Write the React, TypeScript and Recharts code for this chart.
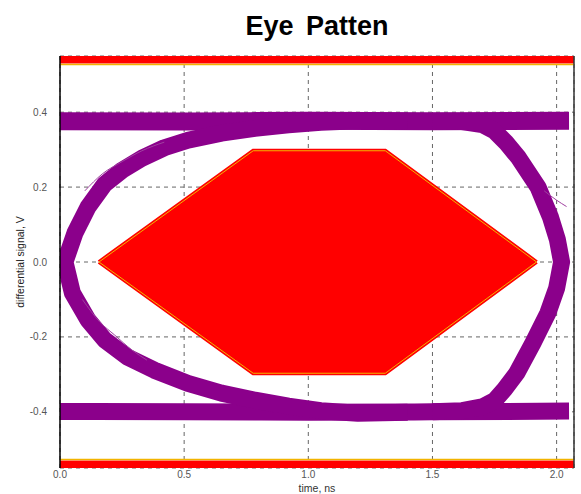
import {
  Area,
  CartesianGrid,
  ComposedChart,
  Line,
  ReferenceArea,
  ReferenceLine,
  XAxis,
  YAxis,
} from "recharts";

type Pt = { t: number; v: number };

// time (ns) / differential signal (V)
const xTicks = [0, 0.5, 1.0, 1.5, 2.0];
const yTicks = [-0.4, -0.2, 0, 0.2, 0.4];

const upperRail: Pt[] = [
  { t: 0, v: 0.376 },
  { t: 0.5, v: 0.375 },
  { t: 1.0, v: 0.377 },
  { t: 1.5, v: 0.376 },
  { t: 2.05, v: 0.377 },
];

const lowerRail: Pt[] = [
  { t: 0, v: -0.399 },
  { t: 0.5, v: -0.4 },
  { t: 1.0, v: -0.401 },
  { t: 1.5, v: -0.4 },
  { t: 2.05, v: -0.398 },
];

// left crossing "<", from the lower rail through the crossing up to the upper rail
const leftCrossing: Pt[] = [
  { t: 1.4, v: -0.401 },
  { t: 1.2, v: -0.404 },
  { t: 1.05, v: -0.397 },
  { t: 0.92, v: -0.385 },
  { t: 0.785, v: -0.369 },
  { t: 0.65, v: -0.35 },
  { t: 0.515, v: -0.324 },
  { t: 0.38, v: -0.289 },
  { t: 0.27, v: -0.253 },
  { t: 0.18, v: -0.208 },
  { t: 0.113, v: -0.155 },
  { t: 0.05, v: -0.083 },
  { t: 0.02, v: 0 },
  { t: 0.06, v: 0.077 },
  { t: 0.113, v: 0.147 },
  { t: 0.18, v: 0.208 },
  { t: 0.25, v: 0.245 },
  { t: 0.33, v: 0.277 },
  { t: 0.42, v: 0.305 },
  { t: 0.515, v: 0.325 },
  { t: 0.65, v: 0.344 },
  { t: 0.785, v: 0.357 },
  { t: 0.92, v: 0.366 },
  { t: 1.05, v: 0.373 },
  { t: 1.2, v: 0.377 },
  { t: 1.4, v: 0.376 },
];

// right crossing ">", from the lower rail through the crossing up to the upper rail
const rightCrossing: Pt[] = [
  { t: 1.5, v: -0.4 },
  { t: 1.62, v: -0.397 },
  { t: 1.7, v: -0.387 },
  { t: 1.75, v: -0.37 },
  { t: 1.79, v: -0.34 },
  { t: 1.84, v: -0.296 },
  { t: 1.905, v: -0.216 },
  { t: 1.965, v: -0.136 },
  { t: 2.0, v: -0.07 },
  { t: 2.02, v: 0 },
  { t: 2.003, v: 0.06 },
  { t: 1.975, v: 0.12 },
  { t: 1.925, v: 0.2 },
  { t: 1.845, v: 0.28 },
  { t: 1.795, v: 0.32 },
  { t: 1.75, v: 0.35 },
  { t: 1.7, v: 0.367 },
  { t: 1.62, v: 0.375 },
  { t: 1.5, v: 0.376 },
];

// a few stray traces
const strayUpper: Pt[] = [
  { t: 0.1, v: 0.19 },
  { t: 0.17, v: 0.235 },
  { t: 0.25, v: 0.268 },
  { t: 0.33, v: 0.297 },
  { t: 0.42, v: 0.32 },
];

const strayLower: Pt[] = [
  { t: 0.09, v: -0.1 },
  { t: 0.16, v: -0.16 },
  { t: 0.22, v: -0.195 },
  { t: 0.29, v: -0.235 },
  { t: 0.35, v: -0.262 },
];

const strayRight: Pt[] = [
  { t: 1.95, v: 0.19 },
  { t: 2.0, v: 0.165 },
  { t: 2.04, v: 0.148 },
];

// eye mask (hexagon) and the top / bottom mask bands
const maskRange = [
  { t: 0.157, v: [0, 0] },
  { t: 0.778, v: [-0.297, 0.297] },
  { t: 1.31, v: [-0.297, 0.297] },
  { t: 1.919, v: [0, 0] },
];

const maskOutline: Pt[] = [
  { t: 0.157, v: 0 },
  { t: 0.778, v: 0.297 },
  { t: 1.31, v: 0.297 },
  { t: 1.919, v: 0 },
  { t: 1.31, v: -0.297 },
  { t: 0.778, v: -0.297 },
  { t: 0.157, v: 0 },
];

const topBand = [0.53, 0.55];
const bottomBand = [-0.55, -0.53];

const FONT = "'Liberation Sans', Arial, sans-serif";
const PURPLE = "#8B008B";
const STRAY = "#A040A0";
const MASK_RED = "#FF0000";
const MASK_EDGE = "#F2B400";

export default function App() {
  const tick = { fontSize: 10, fill: "#555", fontFamily: FONT };

  return (
    <div
      style={{
        position: "absolute",
        left: 0,
        top: 0,
        width: 581,
        height: 494,
        background: "#fff",
        fontFamily: FONT,
      }}
    >
      <div
        style={{
          position: "absolute",
          left: 60,
          width: 514,
          top: 13,
          textAlign: "center",
          fontSize: 27,
          lineHeight: "27px",
          fontWeight: "bold",
          wordSpacing: 5,
          color: "#000",
        }}
      >
        Eye Patten
      </div>

      <ComposedChart
        width={581}
        height={494}
        margin={{ top: 56, right: 7, bottom: 0, left: 0 }}
      >
        <CartesianGrid stroke="#666" strokeDasharray="4 4" />
        <XAxis
          type="number"
          dataKey="t"
          domain={[0, 2.07]}
          ticks={xTicks}
          tickFormatter={(v: number) => v.toFixed(1)}
          allowDataOverflow
          axisLine={false}
          tickLine={false}
          tickSize={2}
          tickMargin={1}
          height={26}
          tick={tick}
          label={{
            value: "time, ns",
            position: "insideBottom",
            offset: 2,
            fontSize: 10.5,
            fill: "#333",
            fontFamily: FONT,
          }}
        />
        <YAxis
          type="number"
          domain={[-0.55, 0.55]}
          ticks={yTicks}
          tickFormatter={(v: number) => v.toFixed(1)}
          allowDataOverflow
          axisLine={{ stroke: "#000", strokeWidth: 1.5 }}
          tickLine={false}
          tickSize={6}
          tickMargin={7}
          width={60}
          tick={tick}
          label={{
            value: "differential signal, V",
            angle: -90,
            position: "insideLeft",
            offset: 20,
            fontSize: 10.5,
            fill: "#222",
            fontFamily: FONT,
            style: { textAnchor: "middle" },
          }}
        />

        <ReferenceArea y1={topBand[0]} y2={topBand[1]} fill={MASK_RED} fillOpacity={1} stroke="none" />
        <ReferenceArea y1={bottomBand[0]} y2={bottomBand[1]} fill={MASK_RED} fillOpacity={1} stroke="none" />
        <ReferenceLine y={topBand[0] - 0.003} stroke={MASK_EDGE} strokeWidth={1.5} />
        <ReferenceLine y={bottomBand[1] + 0.003} stroke={MASK_EDGE} strokeWidth={1.5} />
        <ReferenceLine x={2.07} stroke="#333" strokeWidth={1.5} />

        <Area
          data={maskRange}
          dataKey="v"
          type="linear"
          fill={MASK_RED}
          fillOpacity={1}
          stroke={MASK_RED}
          strokeWidth={4}
          dot={false}
          activeDot={false}
          isAnimationActive={false}
        />
        <Line
          data={maskOutline}
          dataKey="v"
          type="linear"
          stroke={MASK_EDGE}
          strokeWidth={1}
          dot={false}
          activeDot={false}
          isAnimationActive={false}
        />

        <Line data={upperRail} dataKey="v" type="monotone" stroke={PURPLE} strokeWidth={18} dot={false} activeDot={false} isAnimationActive={false} />
        <Line data={lowerRail} dataKey="v" type="monotone" stroke={PURPLE} strokeWidth={17} dot={false} activeDot={false} isAnimationActive={false} />
        <Line data={leftCrossing} dataKey="v" type="linear" stroke={PURPLE} strokeWidth={17} strokeLinejoin="round" dot={false} activeDot={false} isAnimationActive={false} />
        <Line data={rightCrossing} dataKey="v" type="linear" stroke={PURPLE} strokeWidth={17} strokeLinejoin="round" dot={false} activeDot={false} isAnimationActive={false} />
        <Line data={strayUpper} dataKey="v" type="monotone" stroke={STRAY} strokeWidth={1} dot={false} activeDot={false} isAnimationActive={false} />
        <Line data={strayLower} dataKey="v" type="monotone" stroke={STRAY} strokeWidth={1} dot={false} activeDot={false} isAnimationActive={false} />
        <Line data={strayRight} dataKey="v" type="monotone" stroke={STRAY} strokeWidth={1} dot={false} activeDot={false} isAnimationActive={false} />
      </ComposedChart>
    </div>
  );
}
